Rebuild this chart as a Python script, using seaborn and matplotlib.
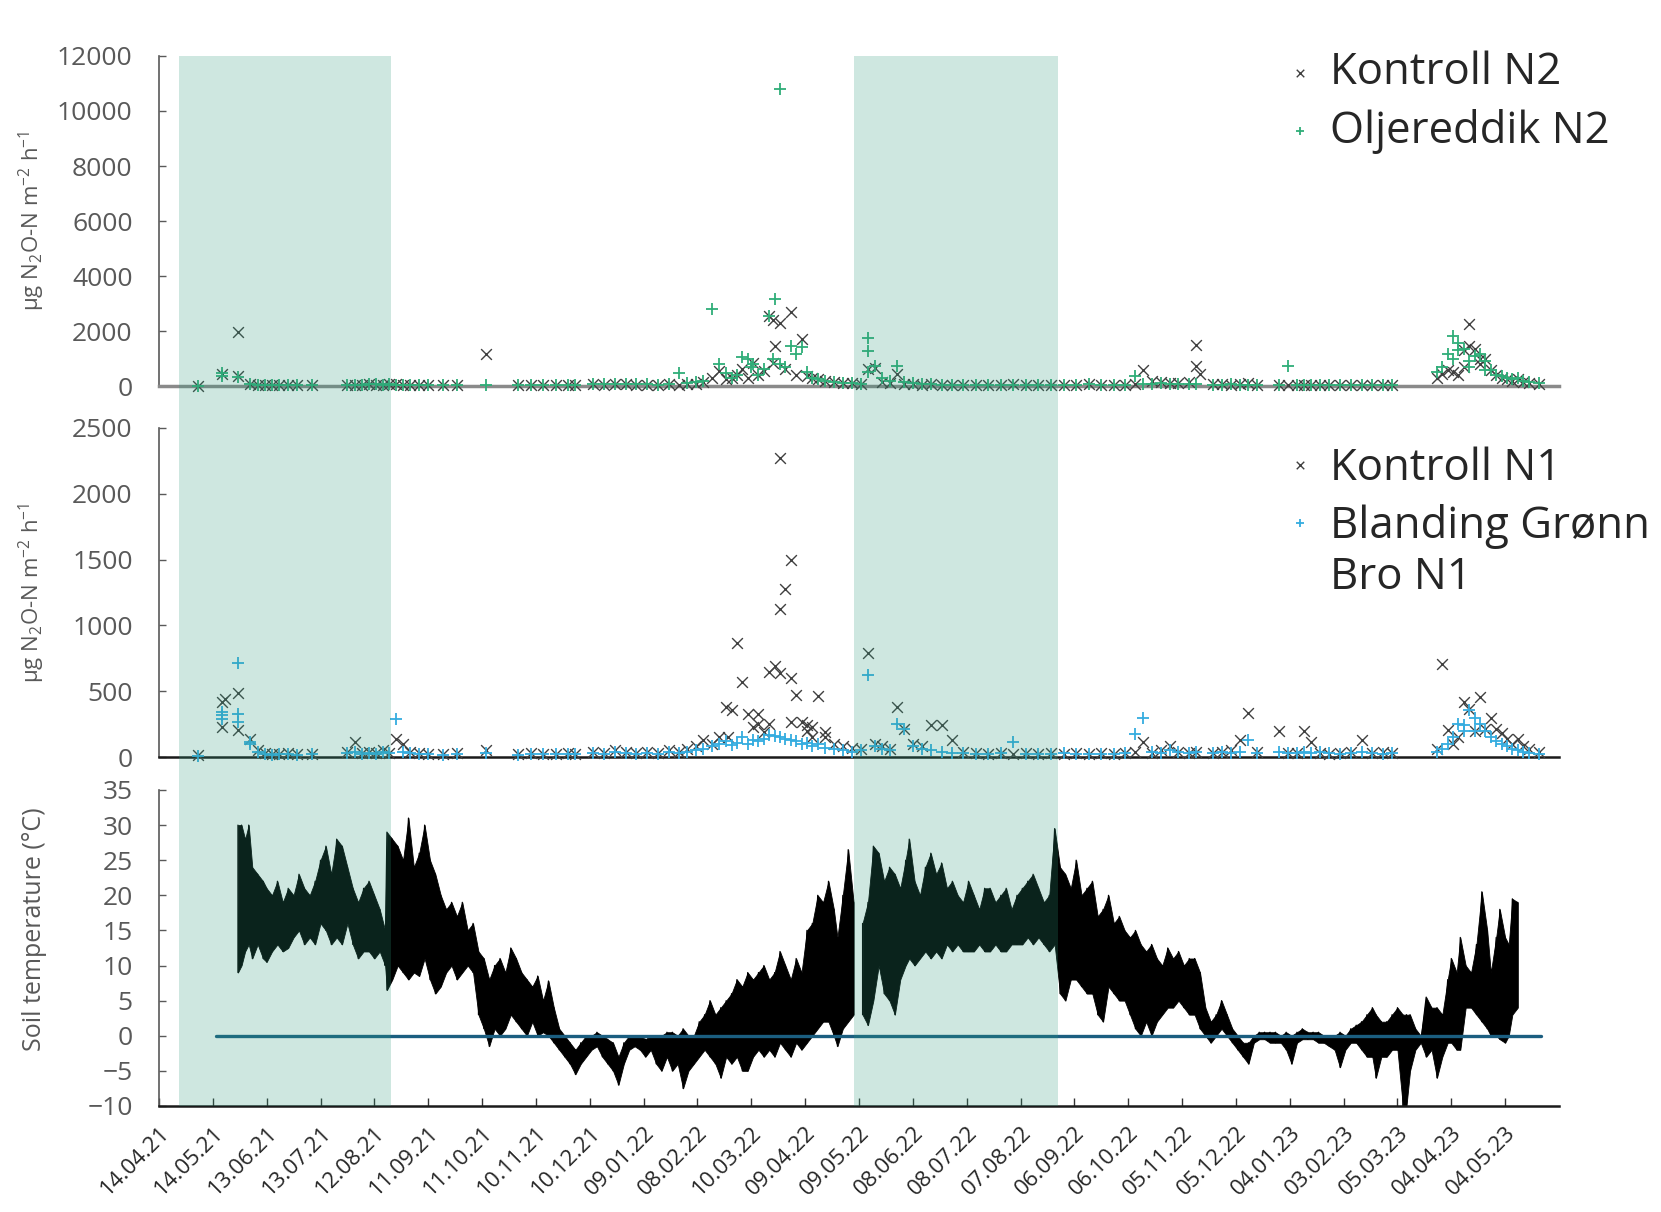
import numpy as np
import pandas as pd
import matplotlib
matplotlib.use("Agg")
import matplotlib.pyplot as plt
import seaborn as sns

sns.set_style("white")
plt.rcParams["font.family"] = ["Open Sans", "DejaVu Sans"]
plt.rcParams["mathtext.fontset"] = "custom"
plt.rcParams["mathtext.rm"] = "Open Sans"
plt.rcParams["mathtext.it"] = "Open Sans:italic"

# ---------------- DATA ----------------
START = "14.04.21"            # day 0 of all day offsets below
AXIS_END_DAY = 780

tick_labels = ["14.04.21", "14.05.21", "13.06.21", "13.07.21", "12.08.21", "11.09.21",
               "11.10.21", "10.11.21", "10.12.21", "09.01.22", "08.02.22", "10.03.22",
               "09.04.22", "09.05.22", "08.06.22", "08.07.22", "07.08.22", "06.09.22",
               "06.10.22", "05.11.22", "05.12.22", "04.01.23", "03.02.23", "05.03.23",
               "04.04.23", "04.05.23"]

shade_start_days = [11, 387]
shade_end_days = [129, 501]

# sampling days (days since 14.04.21)
sample_days = [22, 35, 44, 51, 55, 59, 63, 67, 72, 77,
               85, 105, 109, 113, 117, 121, 125, 128, 132, 136,
               140, 145, 150, 158, 166, 182, 200, 207, 214, 221,
               228, 232, 242, 248, 254, 260, 266, 272, 278, 284,
               290, 294, 299, 303, 308, 312, 316, 319, 322, 325,
               328, 331, 334, 337, 340, 343, 346, 349, 352, 355,
               358, 361, 364, 367, 371, 376, 381, 386, 391, 395,
               399, 403, 407, 411, 415, 420, 425, 430, 436, 442,
               448, 455, 462, 469, 476, 483, 490, 497, 504, 511,
               518, 525, 532, 538, 544, 548, 553, 558, 563, 568,
               574, 578, 587, 592, 597, 602, 607, 612, 624, 629,
               634, 638, 642, 647, 652, 658, 664, 670, 676, 682,
               687, 712, 715, 718, 721, 724, 727, 730, 733, 736,
               739, 742, 745, 748, 751, 754, 757, 760, 763, 769]

kontroll_n2 = [15, 424, 1964, 60, 40, 30, 25, 30, 20, 25,
               20, 30, 40, 35, 60, 50, 40, 80, 60, 50,
               40, 30, 30, 20, 20, 1150, 20, 30, 20, 30,
               40, 30, 60, 40, 80, 60, 40, 50, 30, 60,
               40, 60, 80, 150, 300, 545, 250, 300, 400, 606,
               300, 850, 400, 545, 2545, 1455, 2300, 606, 2700, 400,
               1721, 350, 300, 250, 200, 150, 120, 100, 80, 606,
               667, 150, 100, 424, 80, 60, 50, 60, 40, 50,
               40, 30, 50, 40, 60, 40, 30, 50, 40, 30,
               60, 40, 50, 30, 80, 570, 200, 150, 120, 100,
               150, 1490, 80, 60, 50, 60, 100, 40, 50, 30,
               40, 30, 50, 30, 40, 30, 50, 40, 30, 40,
               30, 300, 450, 600, 500, 400, 700, 2240, 1330, 800,
               1000, 600, 400, 300, 250, 200, 250, 150, 120, 80]
kontroll_n2_extra_days = [44, 342, 342, 578, 580, 730, 736, 727]
kontroll_n2_extra_vals = [364, 2390, 850, 727, 424, 1450, 1000, 1300]

oljereddik_n2 = [10, 485, 327, 80, 50, 40, 30, 30, 25, 30,
                 25, 40, 50, 40, 70, 60, 50, 60, 50, 40,
                 40, 30, 30, 30, 20, 40, 30, 30, 40, 30,
                 50, 40, 70, 60, 90, 80, 60, 70, 50, 60,
                 485, 100, 150, 200, 2790, 790, 485, 300, 400, 1055,
                 970, 790, 400, 606, 2545, 3150, 10812, 700, 1455, 1150,
                 1418, 500, 300, 250, 200, 150, 120, 100, 80, 1757,
                 727, 300, 200, 727, 150, 100, 80, 60, 50, 40,
                 40, 30, 50, 40, 50, 40, 30, 40, 50, 40,
                 60, 50, 40, 50, 364, 80, 60, 100, 80, 60,
                 60, 80, 50, 40, 60, 50, 40, 30, 40, 727,
                 50, 40, 30, 40, 30, 40, 30, 40, 50, 30,
                 40, 500, 700, 1150, 1820, 1575, 1330, 900, 1100, 1150,
                 900, 600, 400, 350, 300, 250, 300, 200, 150, 100]
oljereddik_n2_extra_days = [35, 395, 395, 342, 346, 330, 721, 724, 730, 739]
oljereddik_n2_extra_vals = [364, 1270, 500, 965, 800, 700, 1000, 1300, 700, 600]

kontroll_n1 = [15, 420, 487, 139, 50, 30, 25, 20, 30, 20,
               25, 40, 114, 30, 40, 30, 50, 30, 139, 101,
               40, 30, 25, 20, 30, 50, 20, 30, 20, 25,
               30, 20, 40, 30, 50, 40, 30, 40, 30, 50,
               40, 60, 80, 126, 100, 150, 379, 354, 864, 573,
               328, 227, 253, 190, 644, 694, 2273, 1280, 1495, 472,
               265, 200, 150, 462, 190, 100, 80, 70, 60, 788,
               100, 80, 60, 379, 215, 100, 80, 240, 240, 126,
               40, 30, 20, 30, 25, 30, 20, 30, 25, 30,
               25, 30, 20, 30, 40, 114, 30, 50, 80, 40,
               30, 40, 30, 40, 50, 126, 336, 40, 194, 30,
               30, 194, 114, 30, 20, 30, 40, 131, 30, 40,
               30, 60, 705, 202, 100, 150, 417, 366, 200, 455,
               215, 300, 215, 180, 139, 100, 139, 80, 60, 40]
kontroll_n1_extra_days = [35, 37, 44, 317, 346, 346, 352, 352, 334, 340, 361, 364, 371]
kontroll_n1_extra_vals = [230, 440, 202, 152, 1124, 640, 598, 265, 330, 250, 240, 230, 150]

blanding_n1 = [10, 340, 715, 114, 40, 20, 15, 20, 25, 15,
               20, 30, 40, 20, 30, 25, 40, 30, 290, 40,
               30, 25, 20, 15, 20, 30, 15, 25, 20, 20,
               25, 20, 30, 25, 40, 30, 20, 30, 25, 40,
               30, 40, 50, 60, 80, 100, 120, 90, 110, 150,
               100, 130, 120, 140, 170, 160, 150, 140, 130, 120,
               100, 110, 80, 100, 70, 60, 50, 40, 50, 624,
               80, 60, 50, 250, 210, 80, 60, 50, 40, 30,
               30, 25, 20, 30, 114, 25, 20, 25, 30, 20,
               20, 25, 20, 30, 177, 295, 40, 30, 50, 40,
               30, 40, 30, 40, 30, 40, 126, 30, 40, 30,
               30, 40, 30, 40, 30, 20, 30, 40, 30, 20,
               30, 40, 60, 100, 150, 250, 200, 354, 300, 250,
               200, 150, 120, 100, 80, 60, 50, 40, 30, 20]
blanding_n1_extra_days = [35, 35, 44, 44, 51, 727, 733]
blanding_n1_extra_vals = [290, 316, 328, 265, 100, 240, 200]

# soil temperature envelope (daily max / min), two logging periods
tempA_days = [44, 46, 48, 50, 52, 55, 58, 60, 63, 66,
              69, 72, 75, 78, 81, 84, 87, 90, 93, 96,
              99, 102, 105, 108, 111, 114, 117, 120, 123, 126,
              127, 130, 133, 136, 139, 142, 145, 148, 151, 154,
              157, 160, 163, 166, 169, 172, 175, 178, 181, 184,
              187, 190, 193, 196, 199, 202, 205, 208, 211, 214,
              217, 220, 223, 226, 229, 232, 235, 238, 241, 244,
              247, 250, 253, 256, 259, 262, 265, 268, 271, 274,
              277, 280, 283, 286, 289, 292, 295, 298, 301, 304,
              307, 310, 313, 316, 319, 322, 325, 328, 331, 334,
              337, 340, 343, 346, 349, 352, 355, 358, 361, 364,
              367, 370, 373, 376, 378, 381, 384, 387]
tempA_max = [30, 30, 28, 30, 24, 23, 22, 21, 20, 22,
             19, 21, 20, 23, 21, 20, 22, 25, 27, 23,
             28, 27, 24, 21, 19, 21, 22, 20, 18, 15,
             29, 28, 27, 25, 31, 24, 26, 30, 25, 23,
             20, 18, 19, 17, 19, 15, 16, 12, 11, 8,
             10, 11, 9, 12.5, 11, 9, 8, 7, 8.5, 5,
             7.8, 4, 1, 0, -1, -2, -1, 0, 0, 0.5,
             0, -0.5, -1, -3, -1, 0, 0, 0, -0.5, 0,
             0, 0, 0.5, 0.5, 0, 1, 0, 0, 2, 3,
             5, 3, 4, 5, 6, 8, 7, 9, 8, 9,
             10, 8, 9, 12, 10, 8, 11, 9, 15, 16,
             20, 19, 22, 18, 14, 20, 26.5, 19]
tempA_min = [9, 10, 12, 13, 11, 13, 11, 10.5, 12, 13,
             12, 12.5, 14, 15, 13, 14, 13, 16, 15, 13,
             14, 13, 16, 13, 11, 12, 12, 11, 12, 10,
             6.5, 8, 10, 9, 8, 9, 8.5, 11, 8, 6,
             7, 9, 10, 8, 9, 10, 9, 3, 1, -1.5,
             1, 0, 1, 3, 2, 1, 0, 2, 0, 0.5,
             0, -1, -2, -3, -4, -5.5, -4, -3, -2, -1.5,
             -3, -4, -5, -7, -4, -2, -1.5, -2, -3, -2,
             -4, -5, -3, -5, -4, -7.5, -5, -4, -3, -2,
             -3, -4, -6, -3, -4, -3, -5, -5, -3, -2,
             -3, -2, -3, -1, -2, -3, -1, -2, -1, 0,
             1, 2, 2, 0, -1.5, 1, 2, 3]

tempB_days = [392, 395, 398, 401, 404, 407, 410, 413, 416, 418,
              421, 424, 427, 430, 433, 436, 439, 442, 445, 448,
              451, 454, 457, 460, 463, 466, 469, 472, 475, 478,
              481, 484, 487, 490, 493, 496, 499, 502, 505, 508,
              511, 514, 517, 520, 523, 526, 529, 532, 535, 538,
              541, 544, 547, 550, 553, 556, 559, 562, 565, 568,
              571, 574, 577, 580, 583, 586, 589, 592, 595, 598,
              601, 604, 607, 610, 613, 616, 619, 622, 625, 628,
              631, 634, 637, 640, 643, 646, 649, 652, 655, 658,
              661, 664, 667, 670, 673, 676, 678, 681, 684, 687,
              690, 693, 695, 697, 700, 703, 706, 709, 712, 715,
              718, 720, 723, 725, 728, 731, 734, 737, 740, 742,
              745, 747, 750, 752, 754, 757]
tempB_max = [16, 19, 27, 26, 22, 24, 23, 21, 25, 28,
             22, 20, 24, 26, 23, 24.6, 21, 22, 20, 19,
             22, 20, 18, 21, 21, 19, 20, 21, 18, 20,
             21, 22, 23, 21, 19, 20, 29.5, 24, 23, 21,
             25, 20, 21, 22, 17, 18, 20, 16, 17, 15,
             14, 15, 13, 12, 13, 11, 10, 12.5, 11, 12,
             10, 11, 11, 9, 4, 2, 3, 5, 3, 1,
             0, -1, -1, 0, 0.5, 0.5, 0.5, 0.5, 0, 0.5,
             0, 0.5, 1, 0.5, 0.5, 0.5, 0, 0, 0, 0.5,
             0, 1, 1.5, 2, 3, 4, 3, 2, 2, 3,
             4, 3, 3, 3, 1, 0, 5.5, 4, 4, 3,
             8, 11, 9, 14, 10, 9, 13, 20.5, 15, 9,
             14, 18, 14, 13, 19.5, 19]
tempB_min = [3, 1.5, 5, 10, 6, 5, 3, 8, 10, 11,
             10, 11, 12, 11, 12, 11, 13, 12, 13, 12,
             12, 12, 13, 12, 12, 13, 12, 12, 13, 13,
             13, 14, 13, 14, 13, 12, 13, 6, 5, 8,
             8, 7, 6, 6, 3, 2, 7, 6, 5, 5,
             3, 1, 0, 2, 0, 2, 3, 4, 4, 5,
             4, 3, 3, 1, 0, -1, 0, 1, 0, -1,
             -2, -3, -4, -1, -0.5, -0.5, -1, -1, -1, -2,
             -4, -1, -0.5, -0.5, -0.5, -1, -1, -1.5, -2, -4.5,
             -2, -1, -1, -2, -3, -3, -6, -3, -3, -2,
             -2, -10, -10, -5, -2, -1, -3, -2, -6, -3,
             -1, -1, -2, -2, 4, 4, 3, 2, 1, 0,
             0, -0.5, -1, 0, 3, 4]

zero_line_days = [32, 770]
zero_line_vals = [0, 0]

# ---------------- HELPERS ----------------
start = pd.to_datetime(START, format="%d.%m.%y")


def to_date(days):
    return start + pd.to_timedelta(np.asarray(days, dtype=float), unit="D")


def series_df(base_vals, extra_days, extra_vals):
    d = list(sample_days) + list(extra_days)
    v = list(base_vals) + list(extra_vals)
    return pd.DataFrame({"date": to_date(d), "val": v})


TXT = "#595959"
GREY_X = "#404040"
GREEN = "#2fae78"
BLUE = "#35acdf"
SHADE = "#2c9b7c"

fig = plt.figure(figsize=(16.61, 12.12), dpi=100)
L, W = 0.0957, 0.8429
ax1 = fig.add_axes([L, 0.6815, W, 0.2723])
ax2 = fig.add_axes([L, 0.3754, W, 0.2715])
ax3 = fig.add_axes([L, 0.0875, W, 0.2607])

xmin, xmax = to_date([0, AXIS_END_DAY])

for ax in (ax1, ax2, ax3):
    ax.set_facecolor("none")
    ax.set_xlim(xmin, xmax)
    for s in ("top", "right"):
        ax.spines[s].set_visible(False)
    ax.spines["left"].set_color(TXT)
    ax.spines["left"].set_linewidth(1.2)
    ax.tick_params(axis="y", direction="in", length=5, width=1, color=TXT,
                   labelsize=19, labelcolor=TXT, pad=19, left=True)

# ---- top panel ----
df = series_df(kontroll_n2, kontroll_n2_extra_days, kontroll_n2_extra_vals)
sns.scatterplot(data=df, x="date", y="val", marker="x", color=GREY_X, s=60,
                linewidth=1.0, ax=ax1, label="Kontroll N2", clip_on=False, zorder=3)
df = series_df(oljereddik_n2, oljereddik_n2_extra_days, oljereddik_n2_extra_vals)
sns.scatterplot(data=df, x="date", y="val", marker="+", color=GREEN, s=80,
                linewidth=1.3, ax=ax1, label="Oljereddik N2", clip_on=False, zorder=3)
ax1.set_ylim(0, 12000)
ax1.set_yticks(range(0, 12001, 2000))
ax1.spines["bottom"].set_color("#8a8a8a")
ax1.spines["bottom"].set_linewidth(2.5)
ax1.tick_params(axis="x", bottom=False, labelbottom=False)

# ---- middle panel ----
df = series_df(kontroll_n1, kontroll_n1_extra_days, kontroll_n1_extra_vals)
sns.scatterplot(data=df, x="date", y="val", marker="x", color=GREY_X, s=60,
                linewidth=1.0, ax=ax2, label="Kontroll N1", clip_on=False, zorder=3)
df = series_df(blanding_n1, blanding_n1_extra_days, blanding_n1_extra_vals)
sns.scatterplot(data=df, x="date", y="val", marker="+", color=BLUE, s=80,
                linewidth=1.3, ax=ax2, label="Blanding Grønn\nBro N1", clip_on=False, zorder=3)
ax2.set_ylim(0, 2500)
ax2.set_yticks(range(0, 2501, 500))
ax2.spines["bottom"].set_color("#1a1a1a")
ax2.spines["bottom"].set_linewidth(1.8)
ax2.tick_params(axis="x", bottom=False, labelbottom=False)

# ---- bottom panel: soil temperature (max/min envelope + zig-zag trace) ----
for dd, mx, mn in ((tempA_days, tempA_max, tempA_min), (tempB_days, tempB_max, tempB_min)):
    dates = to_date(dd)
    ax3.fill_between(dates, mn, mx, color="black", linewidth=0.6, zorder=1)
    zx = np.repeat(np.asarray(dates), 2)
    zy = np.column_stack([mx, mn]).ravel()
    sns.lineplot(x=zx, y=zy, color="black", linewidth=0.9, estimator=None,
                 sort=False, ax=ax3, zorder=2)
sns.lineplot(x=to_date(zero_line_days), y=zero_line_vals, color="#1b5e80",
             linewidth=2.4, ax=ax3, zorder=3)
ax3.set_ylim(-10, 35)
ax3.set_yticks(range(-10, 36, 5))
ax3.spines["bottom"].set_color("#1a1a1a")
ax3.spines["bottom"].set_linewidth(1.8)
tick_dates = pd.to_datetime(tick_labels, format="%d.%m.%y")
ax3.set_xticks(tick_dates)
ax3.set_xticklabels(tick_labels, rotation=45, ha="right", va="top",
                    rotation_mode="anchor")
ax3.tick_params(axis="x", direction="in", length=6, width=1, color="#333333",
                labelsize=16, labelcolor="#262626", pad=12, bottom=True)

# axis labels
ylab = "µg N$_2$O-N m$^{-2}$ h$^{-1}$"
for ax in (ax1, ax2):
    ax.set_ylabel(ylab, fontsize=16, color=TXT)
    ax.yaxis.set_label_coords(-0.080, 0.5)
    ax.set_xlabel("")
ax3.set_ylabel("Soil temperature (°C)", fontsize=18, color=TXT)
ax3.yaxis.set_label_coords(-0.080, 0.56)
ax3.set_xlabel("")

# legends
leg_kw = dict(loc="upper left", bbox_transform=fig.transFigure, frameon=False,
              prop={"family": "Open Sans", "size": 31.5}, markerscale=0.7,
              handlelength=0.8, handletextpad=0.3, labelspacing=0.3,
              borderpad=0, borderaxespad=0)
ax1.legend(bbox_to_anchor=(0.772, 0.958), **leg_kw)
leg2 = ax2.legend(bbox_to_anchor=(0.772, 0.632), **leg_kw)
for col in leg2._legend_handle_box.get_children():
    for row in col.get_children():
        row.align = "top"

# shaded periods overlaid on all panels
ov = fig.add_axes([L, 0.0875, W, 0.8663], zorder=10)
ov.set_xlim(xmin, xmax)
ov.set_ylim(0, 1)
ov.axis("off")
ov.patch.set_visible(False)
for a, b in zip(to_date(shade_start_days), to_date(shade_end_days)):
    ov.axvspan(a, b, color=SHADE, alpha=0.23, linewidth=0)

fig.savefig("out.png", dpi=100)
